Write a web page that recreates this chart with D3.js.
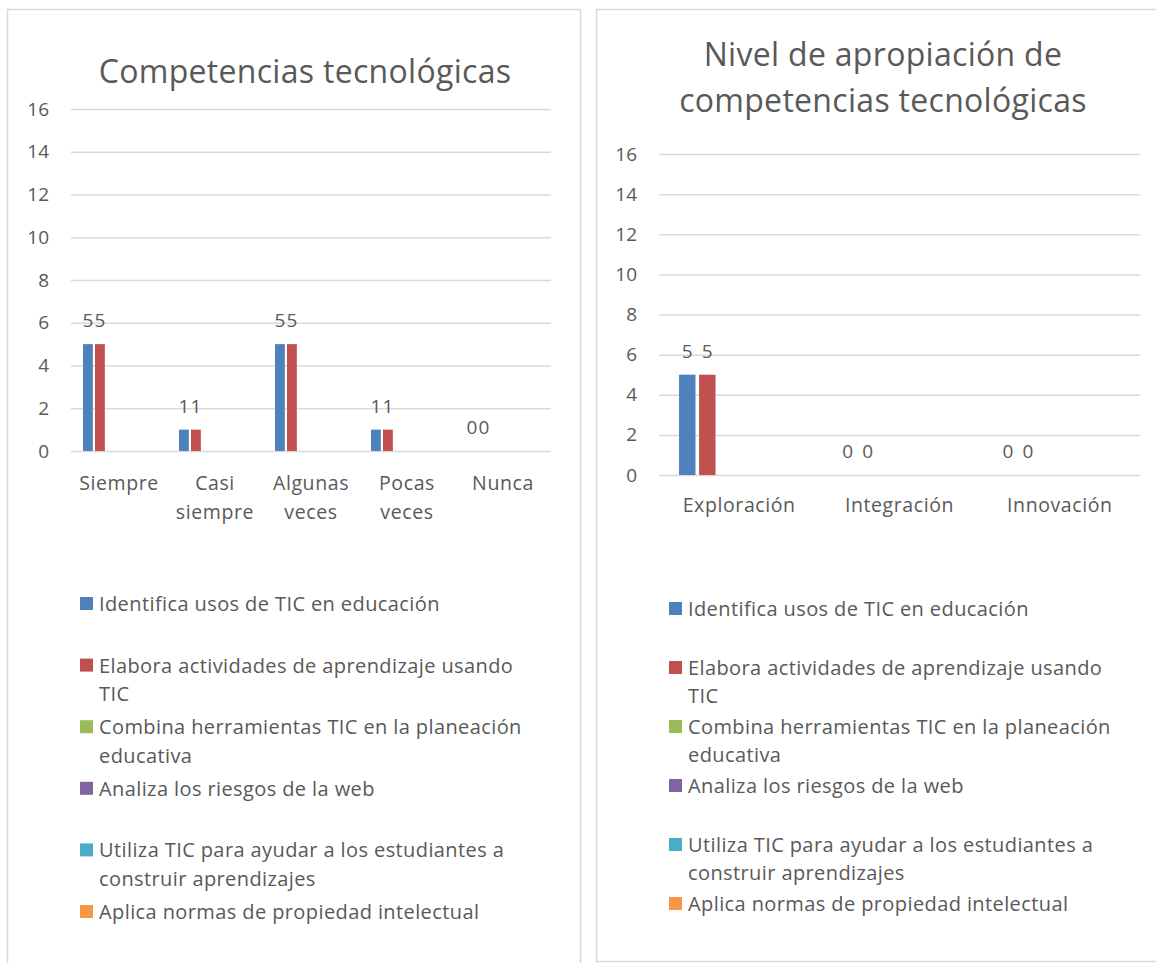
<!DOCTYPE html>
<html>
<head>
<meta charset="utf-8">
<script src="https://cdn.jsdelivr.net/npm/d3@7"></script>
<style>
  body { margin: 0; background: #fff; }
  svg text { font-family: "Open Sans", sans-serif; fill: #595959; }
</style>
</head>
<body>
<div id="viz-container"></div>
<script>
// Data
const seriesNames = [
  "Identifica usos de TIC en educación",
  "Elabora actividades de aprendizaje usando TIC",
  "Combina herramientas TIC en la planeación educativa",
  "Analiza los riesgos de la web",
  "Utiliza TIC para ayudar a los estudiantes a construir aprendizajes",
  "Aplica normas de propiedad intelectual"
];
const seriesColors = ["#4f81bd", "#c0504d", "#9bbb59", "#8064a2", "#4bacc6", "#f79646"];

const frecuencias = ["Siempre", "Casi siempre", "Algunas veces", "Pocas veces", "Nunca"];
// null = series without data for that category
const frecuenciaValues = [
  [5, 1, 5, 1, 0],
  [5, 1, 5, 1, 0],
  [null, null, null, null, null],
  [null, null, null, null, null],
  [null, null, null, null, null],
  [null, null, null, null, null]
];

const niveles = ["Exploración", "Integración", "Innovación"];
const nivelValues = [
  [5, 0, 0],
  [5, 0, 0],
  [null, null, null],
  [null, null, null],
  [null, null, null],
  [null, null, null]
];

const yTicks = [0, 2, 4, 6, 8, 10, 12, 14, 16];

const W = 1156, H = 963;
const svg = d3.select('#viz-container').append('svg')
  .attr('width', W).attr('height', H);

// panel borders
svg.append('path')
  .attr('d', 'M7.5,970 L7.5,9.5 L580.5,9.5 L580.5,970')
  .attr('fill', 'none').attr('stroke', '#d9d9d9').attr('stroke-width', 1.5);
svg.append('path')
  .attr('d', 'M1160,961.5 L596.5,961.5 L596.5,9.5 L1160,9.5')
  .attr('fill', 'none').attr('stroke', '#d9d9d9').attr('stroke-width', 1.5);

function drawChart({
  titleLines, titleX, titleY, titleStep,
  cats, values, plot, labelWrap, xLabelY,
  legend
}) {
  const g = svg.append('g');

  // title
  titleLines.forEach((t, i) => {
    g.append('text')
      .attr('x', titleX).attr('y', titleY + i * titleStep)
      .attr('text-anchor', 'middle')
      .style('font-size', '32px')
      .style('letter-spacing', '0.3px')
      .text(t);
  });

  const y = d3.scaleLinear().domain([0, 16]).range([plot.bottom, plot.top]);
  const x0 = d3.scaleBand().domain(cats).range([plot.left, plot.right]).padding(0);
  // each category split in 8 slots: gap, 6 series, gap
  const x1 = d3.scaleBand().domain(d3.range(8)).range([0, x0.bandwidth()]);

  // grid + y labels
  const yAxis = g.append('g')
    .attr('transform', 'translate(' + plot.left + ',0)')
    .call(d3.axisLeft(y).tickValues(yTicks).tickSize(-(plot.right - plot.left)).tickPadding(22));
  yAxis.select('.domain').remove();
  yAxis.selectAll('line').attr('stroke', '#d9d9d9').attr('stroke-width', 1.5);
  yAxis.selectAll('text').style('font-size', '19px').attr('fill', '#595959');

  // x labels
  const xAxis = g.append('g')
    .attr('transform', 'translate(0,' + xLabelY + ')')
    .call(d3.axisBottom(x0).tickSize(0).tickPadding(0));
  xAxis.select('.domain').remove();
  xAxis.selectAll('text')
    .style('font-size', '19.5px').style('letter-spacing', '0.6px')
    .attr('fill', '#595959').attr('dy', 0)
    .each(function (d) {
      const words = labelWrap ? d.split(' ') : [d];
      const t = d3.select(this).text(null);
      words.forEach((w, i) => {
        t.append('tspan').attr('x', 0).attr('dy', i === 0 ? '0.35em' : '29px').text(w);
      });
    });

  // bars
  values.forEach((vals, s) => {
    const barW = x1.bandwidth() * 0.82;
    vals.forEach((v, c) => {
      if (v === null) return;
      const bx = x0(cats[c]) + x1(s + 1);
      if (v > 0) {
        g.append('rect')
          .attr('x', bx).attr('width', barW)
          .attr('y', y(v)).attr('height', y(0) - y(v))
          .attr('fill', seriesColors[s]);
      }
      g.append('text')
        .attr('x', bx + barW / 2).attr('y', y(v) - 17)
        .attr('text-anchor', 'middle')
        .style('font-size', '19px')
        .text(v);
    });
  });

  // legend
  const lg = g.append('g');
  seriesNames.forEach((name, i) => {
    const top = legend.y + i * legend.step;
    lg.append('rect')
      .attr('x', legend.x).attr('y', top - 7)
      .attr('width', 13).attr('height', 13)
      .attr('fill', seriesColors[i]);
    const txt = lg.append('text')
      .attr('x', legend.x + 19).attr('y', top)
      .style('font-size', '20px')
      .style('letter-spacing', '0.4px');
    // word wrap
    const words = name.split(' ');
    let line = [];
    let tspan = txt.append('tspan').attr('x', legend.x + 19).attr('dy', '0.35em');
    words.forEach(w => {
      line.push(w);
      tspan.text(line.join(' '));
      if (tspan.node().getComputedTextLength() > legend.maxW && line.length > 1) {
        line.pop();
        tspan.text(line.join(' '));
        line = [w];
        tspan = txt.append('tspan').attr('x', legend.x + 19).attr('dy', legend.lineH + 'px').text(w);
      }
    });
  });
}

drawChart({
  titleLines: ["Competencias tecnológicas"],
  titleX: 305, titleY: 83, titleStep: 0,
  cats: frecuencias, values: frecuenciaValues,
  plot: { left: 71, right: 551, top: 109, bottom: 451 },
  labelWrap: true, xLabelY: 483,
  legend: { x: 80, y: 604, step: 61.6, lineH: 28.5, maxW: 432 }
});

drawChart({
  titleLines: ["Nivel de apropiación de", "competencias tecnológicas"],
  titleX: 883, titleY: 66, titleStep: 46,
  cats: niveles, values: nivelValues,
  plot: { left: 659, right: 1140, top: 154, bottom: 475 },
  labelWrap: false, xLabelY: 505,
  legend: { x: 669, y: 609, step: 59, lineH: 28, maxW: 432 }
});
</script>
</body>
</html>
